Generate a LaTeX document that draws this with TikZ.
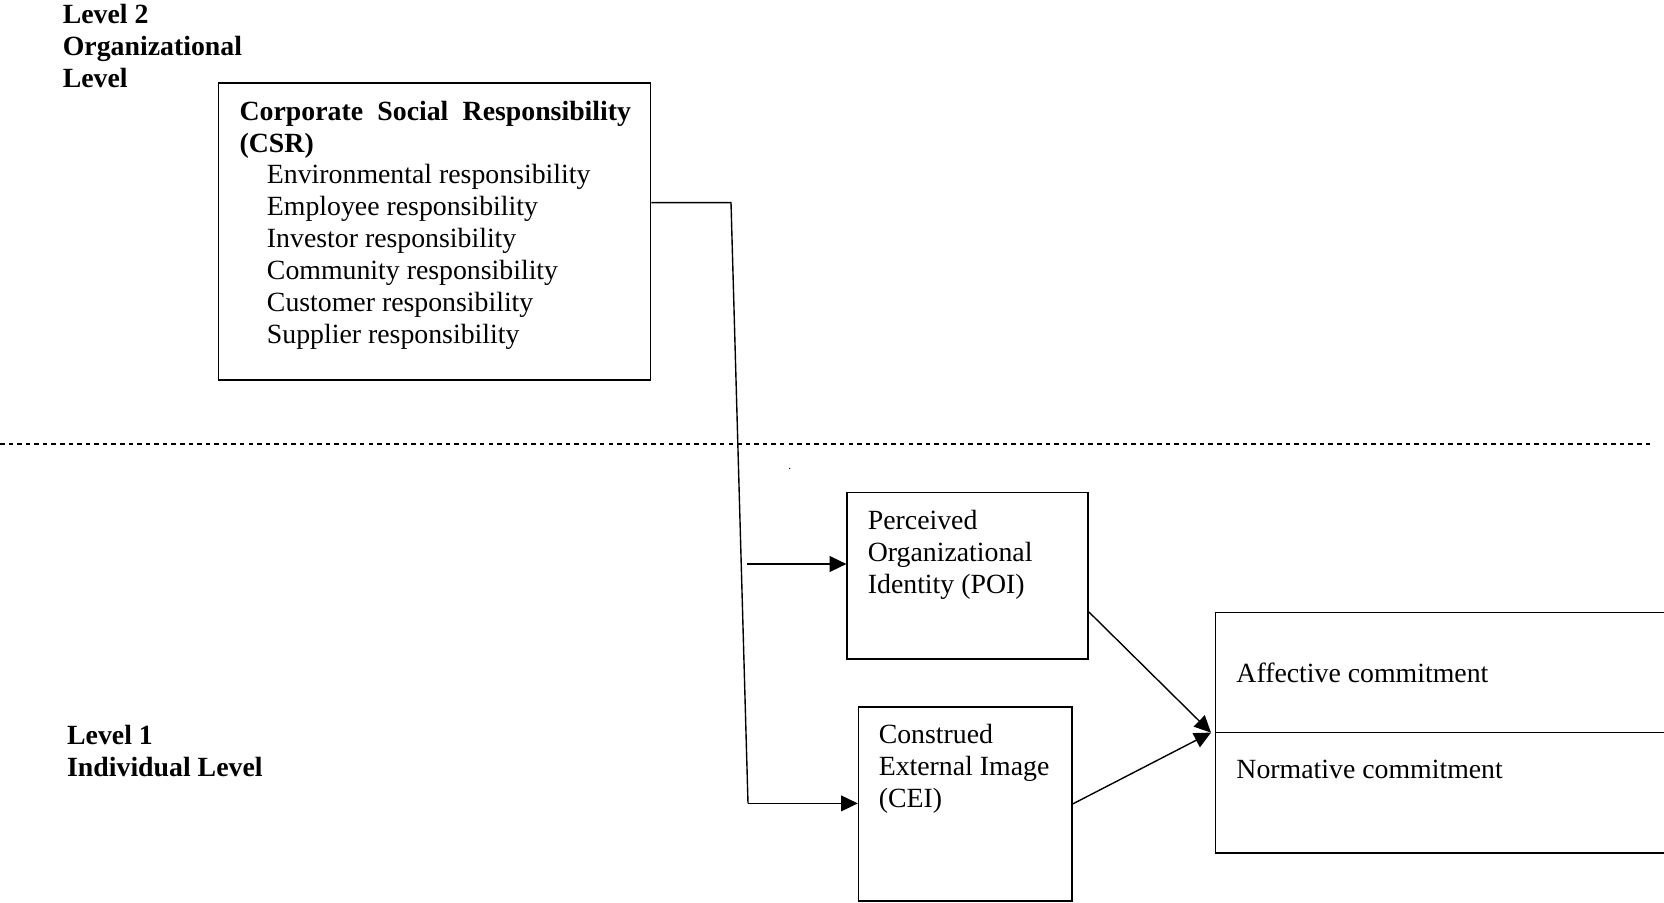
\documentclass[tikz,border=0pt]{standalone}
\usepackage{fontspec}
\setmainfont{Liberation Serif}
\usetikzlibrary{arrows.meta,fit}
\newcommand\blocklines[1]{\begin{tabular}[t]{@{}l@{}}#1\end{tabular}}
\begin{document}
\begin{tikzpicture}[x=0.4317pt,y=-0.4317pt,
  font=\fontsize{12pt}{13.81pt}\selectfont,
  boxnode/.style={draw,line width=0.7pt,inner sep=0pt,fit={#1}},
  txt/.style={anchor=base west,inner sep=0pt},
  conn/.style={line width=0.6pt},
  arr/.style={line width=0.6pt,-{Triangle[length=7.2pt,width=6.8pt]}},
  levelline/.style={line width=0.7pt,dash pattern=on 1.95pt off 1.75pt}]
\useasboundingbox (0,0) rectangle (1664,903);

% level labels
\node[txt,font=\fontsize{12pt}{13.81pt}\selectfont\bfseries] (lvl2) at (62.4,23.2)
  {\blocklines{Level 2\\Organizational\\Level}};
\node[txt,font=\fontsize{12pt}{13.81pt}\selectfont\bfseries] (lvl1) at (66.7,744.3)
  {\blocklines{Level 1\\Individual Level}};

% dashed separator
\coordinate (dl) at (0,444.3);
\coordinate (dr) at (1650,444.3);
\draw[levelline] (dl) -- (dr);

% CSR box
\node[boxnode={(218.6,82.8) (650.5,380)}] (csr) {};
\node[txt,font=\fontsize{12pt}{13.81pt}\selectfont\bfseries] (csrtitle) at (239.2,120)
  {\makebox[391.4\dimexpr0.4317pt\relax][s]{Corporate Social Responsibility}};
\node[txt,font=\fontsize{12pt}{13.81pt}\selectfont\bfseries] (csrabbr) at (239.2,152.2) {(CSR)};
\node[txt] (csritems) at (266.5,183.8)
  {\blocklines{Environmental responsibility\\Employee responsibility\\Investor responsibility\\Community responsibility\\Customer responsibility\\Supplier responsibility}};

% POI box
\node[boxnode={(847.2,492.6) (1087.9,659)}] (poi) {};
\node[txt] (poitext) at (867.4,529.8)
  {\blocklines{Perceived\\Organizational\\Identity (POI)}};

% CEI box
\node[boxnode={(858.6,706.8) (1072,901)}] (cei) {};
\node[txt] (ceitext) at (878.3,743.8)
  {\blocklines{Construed\\External Image\\(CEI)}};

% commitment box (two stacked parts, cut at the right edge)
\node[boxnode={(1215.5,612.6) (1670,732.6)}] (aff) {};
\node[boxnode={(1215.5,732.6) (1670,853)}] (norm) {};
\node[txt] (afftext) at (1236,682) {Affective commitment};
\node[txt] (normtext) at (1236,778.6) {Normative commitment};

% small stray dot
\node[txt,font=\tiny] (dot) at (788,469) {.};

% connectors
\coordinate (j1) at (731,202.6);
\coordinate (j2) at (748,803.4);
\coordinate (p0) at (747,564);
\coordinate (tip) at (1211,732.6);
\draw[conn] (csr.east |- j1) -- (j1) -- (j2);
\draw[arr] (j2) -- (cei.west |- j2);
\draw[arr] (p0) -- (poi.west |- p0);
\draw[arr] (poi.east |- aff.north) -- (tip);
\draw[arr] (cei.east) -- (tip);
\end{tikzpicture}
\end{document}
